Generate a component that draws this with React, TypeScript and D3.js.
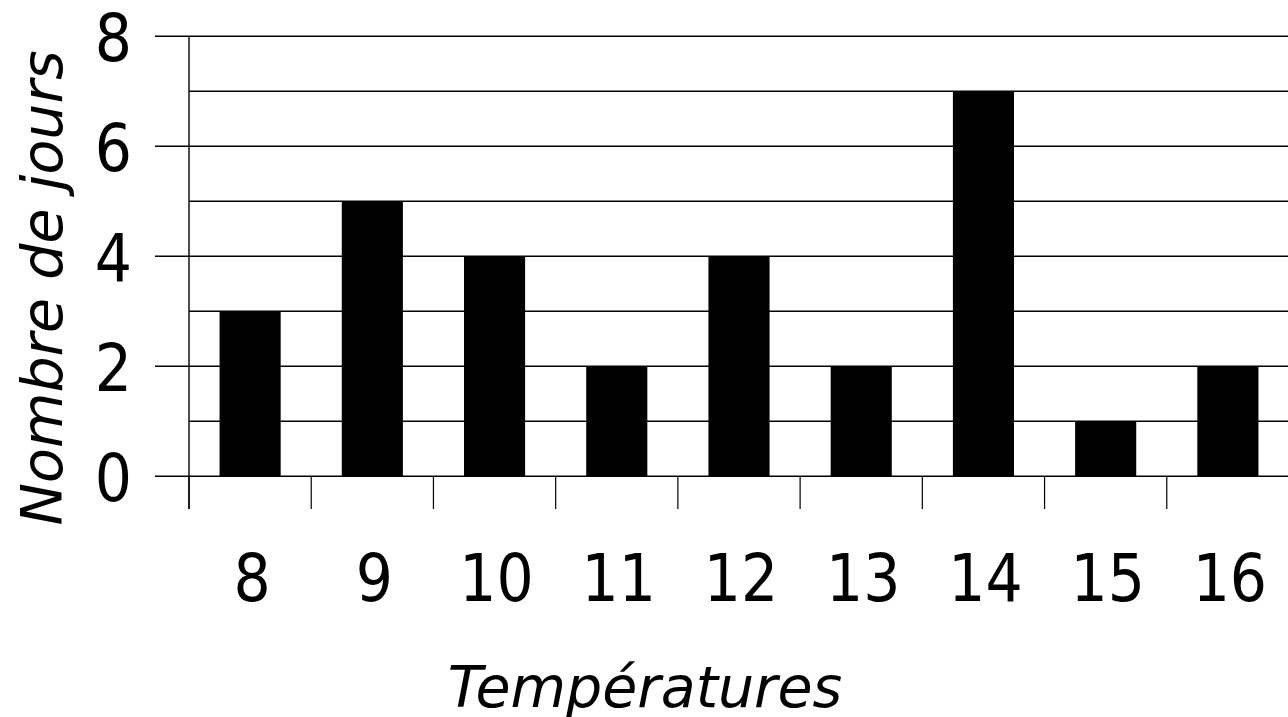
import * as d3 from "d3";
import React, { useEffect, useRef } from "react";

// données
const temperatures: string[] = ["8", "9", "10", "11", "12", "13", "14", "15", "16"];
const nbJours: number[] = [3, 5, 4, 2, 4, 2, 7, 1, 2];
const yTicks: number[] = [0, 2, 4, 6, 8];
const yGrid: number[] = [1, 2, 3, 4, 5, 6, 7, 8];

const App = () => {
	const ref = useRef<SVGSVGElement>(null);

	useEffect(() => {
		const width = 1288;
		const height = 717;
		const loff = 189;
		const top = 36.3;
		const bottom = 476.3;
		const font = "'DejaVu Sans', sans-serif";
		const tickFont = "'DejaVu Sans Condensed', 'DejaVu Sans', sans-serif";

		const svg = d3.select(ref.current);
		svg.selectAll("*").remove();

		const xScale = d3
			.scaleBand<string>()
			.domain(temperatures)
			.range([loff, width + 1])
			.paddingInner(0)
			.paddingOuter(0);

		const yScale = d3.scaleLinear().domain([0, 8]).range([bottom, top]);

		// grille horizontale
		svg.append("g")
			.selectAll("line")
			.data(yGrid)
			.enter()
			.append("line")
			.attr("x1", loff)
			.attr("x2", width)
			.attr("y1", (d) => yScale(d))
			.attr("y2", (d) => yScale(d))
			.attr("stroke", "#000")
			.attr("stroke-width", 1.4);

		// barres
		svg.append("g")
			.selectAll("rect")
			.data(nbJours)
			.enter()
			.append("rect")
			.attr("x", (_d, i) => (xScale(temperatures[i]) as number) + xScale.bandwidth() * 0.25)
			.attr("width", xScale.bandwidth() * 0.5)
			.attr("y", (d) => yScale(d))
			.attr("height", (d) => bottom - yScale(d))
			.attr("fill", "#000");

		// axes
		svg.append("line")
			.attr("x1", loff)
			.attr("x2", loff)
			.attr("y1", top)
			.attr("y2", 509)
			.attr("stroke", "#000")
			.attr("stroke-width", 1.4);

		svg.append("line")
			.attr("x1", loff)
			.attr("x2", width)
			.attr("y1", bottom)
			.attr("y2", bottom)
			.attr("stroke", "#000")
			.attr("stroke-width", 1.4);

		const yAxis = svg.append("g");
		yAxis.selectAll("line")
			.data(yTicks)
			.enter()
			.append("line")
			.attr("x1", 155)
			.attr("x2", loff)
			.attr("y1", (d) => yScale(d))
			.attr("y2", (d) => yScale(d))
			.attr("stroke", "#000")
			.attr("stroke-width", 1.4);
		yAxis.selectAll("text")
			.data(yTicks)
			.enter()
			.append("text")
			.attr("x", 132)
			.attr("y", (d) => yScale(d) + 25)
			.attr("text-anchor", "end")
			.attr("font-family", tickFont)
			.attr("font-size", 65)
			.attr("fill", "#000")
			.text((d) => d);

		const xAxis = svg.append("g");
		xAxis.selectAll("line")
			.data(temperatures)
			.enter()
			.append("line")
			.attr("x1", (d) => xScale(d) as number)
			.attr("x2", (d) => xScale(d) as number)
			.attr("y1", bottom)
			.attr("y2", 509)
			.attr("stroke", "#000")
			.attr("stroke-width", 1.2);
		xAxis.selectAll("text")
			.data(temperatures)
			.enter()
			.append("text")
			.attr("x", (d) => (xScale(d) as number) + xScale.bandwidth() / 2 + 2)
			.attr("y", 601)
			.attr("text-anchor", "middle")
			.attr("font-family", tickFont)
			.attr("font-size", 65)
			.attr("fill", "#000")
			.text((d) => d);

		// titres
		svg.append("text")
			.attr("x", 645)
			.attr("y", 707)
			.attr("text-anchor", "middle")
			.attr("font-family", font)
			.attr("font-style", "italic")
			.attr("font-size", 57)
			.attr("fill", "#000")
			.text("Températures");

		svg.append("text")
			.attr("transform", `translate(62, 288) rotate(-90)`)
			.attr("text-anchor", "middle")
			.attr("font-family", font)
			.attr("font-style", "italic")
			.attr("font-size", 57)
			.attr("fill", "#000")
			.text("Nombre de jours");
	}, []);

	return (
		<svg
			ref={ref}
			width={1288}
			height={717}
			style={{ position: "absolute", left: 0, top: 0, background: "#fff" }}
		/>
	);
};

export default App;
